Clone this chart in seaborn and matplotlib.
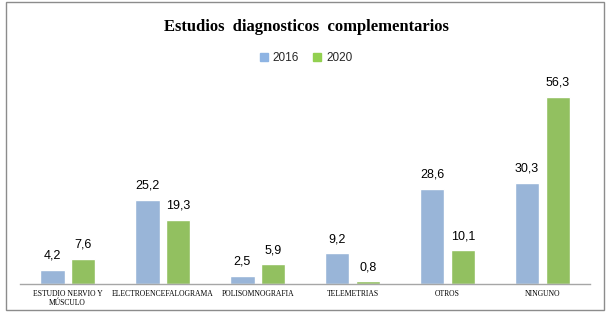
import matplotlib
matplotlib.use("Agg")
import matplotlib.pyplot as plt
from matplotlib.patches import Rectangle
import pandas as pd
import seaborn as sns

categories = ["ESTUDIO NERVIO Y\nMÚSCULO", "ELECTROENCEFALOGRAMA", "POLISOMNOGRAFIA",
              "TELEMETRIAS", "OTROS", "NINGUNO"]
years = ["2016", "2020"]
values_2016 = [4.2, 25.2, 2.5, 9.2, 28.6, 30.3]
values_2020 = [7.6, 19.3, 5.9, 0.8, 10.1, 56.3]
colors = ["#8EB4E3", "#92D050"]

df = pd.DataFrame({
    "cat": categories * 2,
    "year": [years[0]] * 6 + [years[1]] * 6,
    "val": values_2016 + values_2020,
})

sns.set_style("white")
fig = plt.figure(figsize=(6.12, 3.16), dpi=100)
ax = fig.add_axes([0.033, 0.101, 0.931, 0.632])

sns.barplot(data=df, x="cat", y="val", hue="year", palette=colors,
            width=0.65, gap=0.2, ax=ax, legend=False)

for cont in ax.containers:
    ax.bar_label(cont, labels=[f"{v:.1f}".replace(".", ",") for v in cont.datavalues],
                 padding=6, fontsize=9, family="Liberation Sans", color="black")

ax.set_ylim(0, 60)
ax.set_xlim(-0.5, 5.5)
ax.set_yticks([])
ax.set_xlabel("")
ax.set_ylabel("")
for s in ["top", "right", "left"]:
    ax.spines[s].set_visible(False)
ax.spines["bottom"].set_color("#a6a6a6")
ax.spines["bottom"].set_linewidth(1)
ax.tick_params(axis="x", length=0, pad=4)
for lbl in ax.get_xticklabels():
    lbl.set_fontsize(5.5)
    lbl.set_family("Liberation Serif")
    lbl.set_color("black")
    lbl.set_va("top")
    lbl.set_linespacing(1.3)

fig.text(0.5, 0.915, "Estudios  diagnosticos  complementarios", ha="center", va="center",
         fontsize=12, fontweight="bold", family="Liberation Serif", color="black")

handles = [Rectangle((0, 0), 1, 1, color=c) for c in colors]
fig.legend(handles, years, loc="center", bbox_to_anchor=(0.5, 0.815), ncol=2,
           frameon=False, handlelength=0.7, handleheight=0.7,
           columnspacing=1.2, handletextpad=0.4, prop={"family": "Liberation Sans", "size": 8.5})

fig.patches.append(Rectangle((6 / 612, 6 / 316), 598 / 612, 308 / 316, transform=fig.transFigure,
                             fill=False, edgecolor="#8c8c8c", linewidth=1))

fig.savefig("out.png", dpi=100)
